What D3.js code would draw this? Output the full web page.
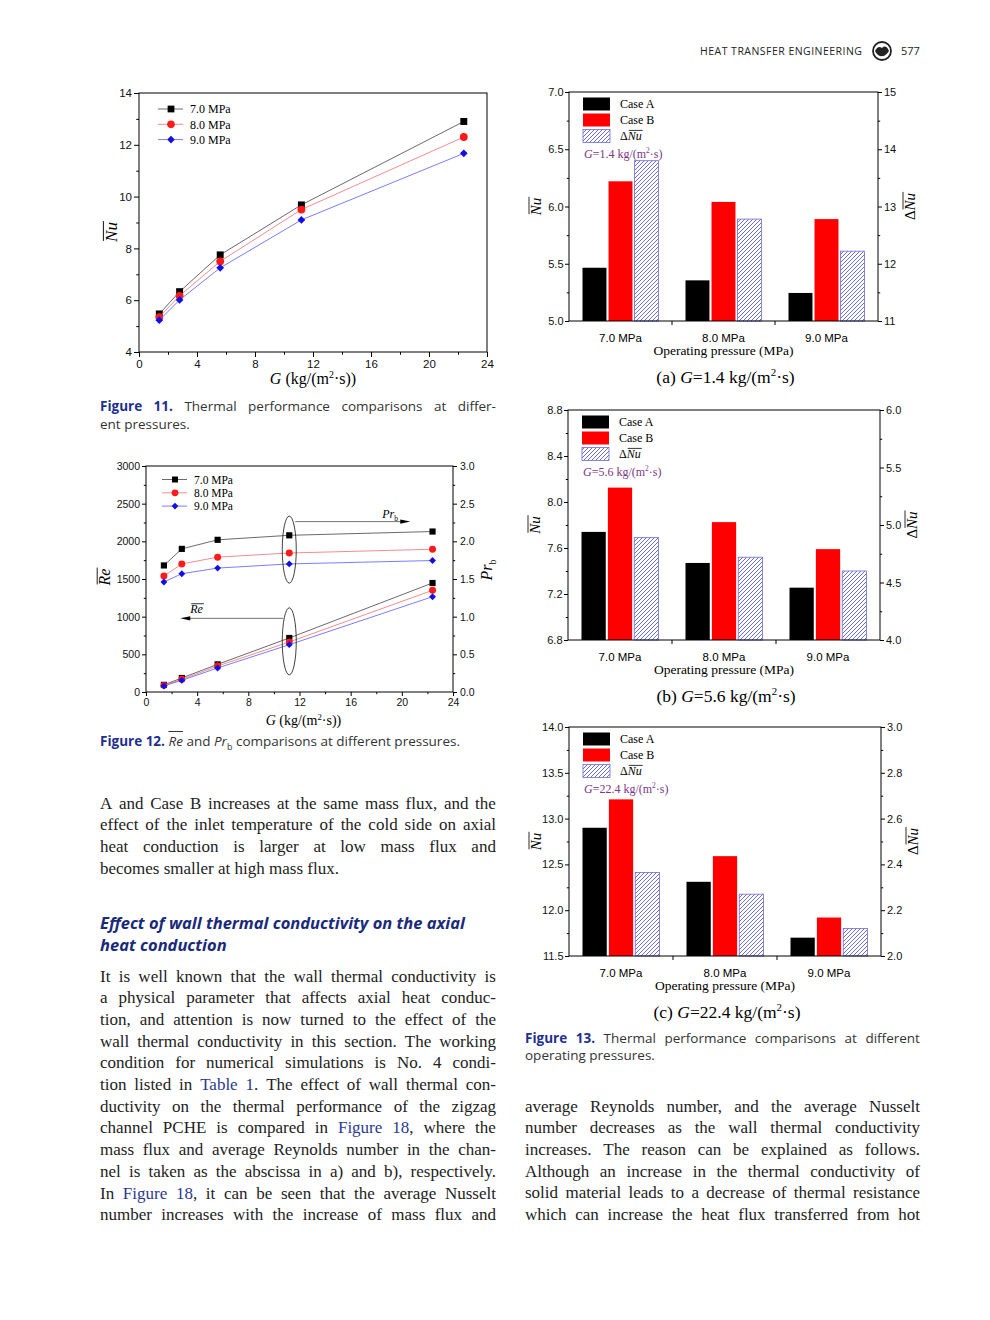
<!DOCTYPE html>
<html lang="en">
<head>
<meta charset="UTF-8">
<title>Heat Transfer Engineering 577</title>
<style>
  body { margin: 0; background: #fff; }
  #page { position: relative; width: 990px; height: 1320px; background: #fff; overflow: hidden; }
  #page svg { position: absolute; left: 0; top: 0; }
  .ln { position: absolute; font-family: "Liberation Serif", serif; font-size: 17px; color: #222; height: 22px; line-height: 22px; white-space: nowrap; }
  .cap { position: absolute; font-family: "Open Sans", sans-serif; font-size: 13.5px; color: #333; height: 17px; line-height: 17px; white-space: nowrap; }
  .hd { position: absolute; font-family: "Open Sans", sans-serif; font-size: 16.5px; font-weight: bold; font-style: italic; color: #1a2a7a; height: 22px; line-height: 22px; white-space: nowrap; }
  .j { display: flex; justify-content: space-between; }
  .lk { color: #2b3a8c; }
  .fg { color: #1f2f8f; font-weight: bold; }
  .ov { text-decoration: overline; }
  sub { font-size: 9px; line-height: 0; }
</style>
</head>
<body>
<div id="page"></div>
<script src="https://d3js.org/d3.v7.min.js"></script>
<script>
// ---- data ----
const massFlux = [1.4, 2.8, 5.6, 11.2, 22.4];
const pressureLabels = ['7.0 MPa', '8.0 MPa', '9.0 MPa'];
const gTicks = [0, 4, 8, 12, 16, 20, 24];

// Fig 11: average Nu vs G
const nu70 = [5.47, 6.33, 7.75, 9.68, 12.9];
const nu80 = [5.35, 6.17, 7.5, 9.5, 12.3];
const nu90 = [5.23, 6.01, 7.25, 9.1, 11.67];

// Fig 12: average Re (left axis) and Pr_b (right axis) vs G
const re70 = [95, 186, 367, 717, 1447];
const re80 = [88, 168, 345, 664, 1350];
const re90 = [80, 155, 319, 628, 1265];
const pr70 = [1.68, 1.90, 2.02, 2.08, 2.13];
const pr80 = [1.54, 1.70, 1.79, 1.845, 1.895];
const pr90 = [1.46, 1.57, 1.645, 1.70, 1.745];

// Fig 13: Case A / Case B Nu (left axis), delta Nu (right axis)
const caseA_a = [5.465, 5.355, 5.245];
const caseB_a = [6.22, 6.04, 5.89];
const dNu_a = [13.8, 12.78, 12.22];
const caseA_b = [7.74, 7.47, 7.255];
const caseB_b = [8.125, 7.825, 7.59];
const dNu_b = [4.89, 4.72, 4.60];
const caseA_c = [12.9, 12.31, 11.7];
const caseB_c = [13.21, 12.59, 11.92];
const dNu_c = [2.365, 2.27, 2.12];

const SANS = "'Liberation Sans', Arial, sans-serif";
const SERIF = "'Liberation Serif', 'Times New Roman', serif";

const page = d3.select('#page');
const svg = page.append('svg').attr('width', 990).attr('height', 1320);

// hatch for the delta bars
const pat = svg.append('defs').append('pattern')
  .attr('id', 'hatch').attr('patternUnits', 'userSpaceOnUse')
  .attr('width', 4).attr('height', 4);
pat.append('rect').attr('width', 4).attr('height', 4).attr('fill', '#fff');
pat.append('path').attr('d', 'M-1,1 L1,-1 M0,4 L4,0 M3,5 L5,3')
  .attr('stroke', '#5b5bd6').attr('stroke-width', 0.9);

// ---- helpers ----
function richText(parent, x, y, parts, o) {
  const fs = o.fs;
  const t = parent.append('text').attr('x', x).attr('y', y)
    .attr('font-family', o.font || SERIF).attr('font-size', fs)
    .attr('fill', o.fill || '#000').attr('text-anchor', o.anchor || 'start');
  let cur = 0, idx = 0;
  const overs = [];
  parts.forEach(p => {
    const s = t.append('tspan').text(p.t);
    if (p.it) s.attr('font-style', 'italic');
    let target = 0;
    if (p.sup) { s.attr('font-size', fs * 0.62); target = -fs * 0.38; }
    if (p.sub) { s.attr('font-size', fs * 0.62); target = fs * 0.25; }
    if (target !== cur) { s.attr('dy', target - cur); cur = target; }
    if (p.over) overs.push([idx, idx + p.t.length]);
    idx += p.t.length;
  });
  overs.forEach(([a, b]) => {
    const n = t.node();
    const s = n.getStartPositionOfChar(a), e = n.getEndPositionOfChar(b - 1);
    parent.append('line')
      .attr('x1', s.x + 1).attr('x2', e.x + 1)
      .attr('y1', s.y - fs * 0.8).attr('y2', s.y - fs * 0.8)
      .attr('stroke', o.fill || '#000').attr('stroke-width', Math.max(0.8, fs * 0.055));
  });
  return t;
}

function rotLabel(x, y, parts, fs) {
  const g = svg.append('g').attr('transform', `translate(${x},${y}) rotate(-90)`);
  richText(g, 0, 0, parts, { fs: fs, anchor: 'middle' });
}

function tidy(sel, fs) {
  sel.attr('font-family', SANS).attr('font-size', fs);
  sel.select('.domain').remove();
  sel.selectAll('.tick line').attr('stroke', '#000');
  sel.selectAll('.tick text').attr('fill', '#111');
}

function axisWithMinor(g, make, scale, major, minor, tr, fs, len, pad, f) {
  g.append('g').attr('transform', tr)
    .call(make(scale).tickValues(minor).tickSize(len * 0.55).tickFormat(''))
    .call(s => tidy(s, fs));
  g.append('g').attr('transform', tr)
    .call(make(scale).tickValues(major).tickSize(len).tickPadding(pad).tickFormat(d3.format(f || '')))
    .call(s => tidy(s, fs));
}

function frame(g, p) {
  g.append('rect').attr('x', p.x0).attr('y', p.y1)
    .attr('width', p.x1 - p.x0).attr('height', p.y0 - p.y1)
    .attr('fill', 'none').attr('stroke', '#000').attr('stroke-width', 1);
}

function marker(g, s, x, y, size) {
  const p = g.append('path')
    .attr('d', d3.symbol().type(s.sym === 'diamond' ? d3.symbolSquare : s.sym).size(size)())
    .attr('fill', s.color);
  p.attr('transform', `translate(${x},${y})` + (s.sym === 'diamond' ? ' rotate(45)' : ''));
}

function drawSeries(g, x, y, vals, s, size) {
  const pts = d3.zip(massFlux, vals);
  g.append('path').datum(pts)
    .attr('d', d3.line().x(d => x(d[0])).y(d => y(d[1])))
    .attr('fill', 'none').attr('stroke', s.line).attr('stroke-width', 0.8);
  pts.forEach(d => marker(g, s, x(d[0]), y(d[1]), s.sym === 'diamond' ? size * 0.62 : size));
}

const styles = [
  { name: '7.0 MPa', color: '#000', line: '#444', sym: d3.symbolSquare },
  { name: '8.0 MPa', color: '#ff1a1a', line: '#f07070', sym: d3.symbolCircle },
  { name: '9.0 MPa', color: '#1010e6', line: '#5a5aff', sym: 'diamond' }
];

function lineLegend(g, p, dx, dy, step, fs, msize) {
  styles.forEach((s, i) => {
    const yy = p.y1 + dy + i * step;
    g.append('line').attr('x1', p.x0 + dx).attr('x2', p.x0 + dx + 25)
      .attr('y1', yy).attr('y2', yy).attr('stroke', s.line).attr('stroke-width', 0.8);
    marker(g, s, p.x0 + dx + 13, yy, s.sym === 'diamond' ? msize * 0.62 : msize);
    g.append('text').attr('x', p.x0 + dx + 32).attr('y', yy + fs * 0.35)
      .attr('font-family', SERIF).attr('font-size', fs).text(s.name);
  });
}

const gUnitParts = [{ t: 'G', it: true }, { t: ' (kg/(m' }, { t: '2', sup: true }, { t: '·s))' }];

// ---- Figure 11 ----
{
  const p = { x0: 139, x1: 487, y0: 352, y1: 93 };
  const x = d3.scaleLinear().domain([0, 24]).range([p.x0, p.x1]);
  const y = d3.scaleLinear().domain([4, 14]).range([p.y0, p.y1]);
  const g = svg.append('g');
  [nu70, nu80, nu90].forEach((v, i) => drawSeries(g, x, y, v, styles[i], 48));
  frame(g, p);
  axisWithMinor(g, d3.axisBottom, x, gTicks, d3.range(2, 24, 4), `translate(0,${p.y0})`, 11.5, 5, 3, 'd');
  axisWithMinor(g, d3.axisLeft, y, d3.range(4, 15, 2), d3.range(5, 14, 2), `translate(${p.x0},0)`, 11.5, 5, 2, 'd');
  lineLegend(g, p, 19, 16, 15.3, 12, 46);
  rotLabel(117, 232, [{ t: 'Nu', it: true, over: true }], 17);
  richText(svg, (p.x0 + p.x1) / 2, p.y0 + 32, gUnitParts, { fs: 16, anchor: 'middle' });
}

// ---- Figure 12 ----
{
  const p = { x0: 146, x1: 453, y0: 692, y1: 466 };
  const x = d3.scaleLinear().domain([0, 24]).range([p.x0, p.x1]);
  const yL = d3.scaleLinear().domain([0, 3000]).range([p.y0, p.y1]);
  const yR = d3.scaleLinear().domain([0, 3]).range([p.y0, p.y1]);
  const g = svg.append('g');
  [re70, re80, re90].forEach((v, i) => drawSeries(g, x, yL, v, styles[i], 38));
  [pr70, pr80, pr90].forEach((v, i) => drawSeries(g, x, yR, v, styles[i], 38));
  frame(g, p);
  axisWithMinor(g, d3.axisBottom, x, gTicks, d3.range(2, 24, 4), `translate(0,${p.y0})`, 10.5, 4, 3, 'd');
  axisWithMinor(g, d3.axisLeft, yL, d3.range(0, 3001, 500), d3.range(250, 3000, 500), `translate(${p.x0},0)`, 10.5, 4, 2, 'd');
  axisWithMinor(g, d3.axisRight, yR, d3.range(0, 3.01, 0.5), d3.range(0.25, 3, 0.5), `translate(${p.x1},0)`, 10.5, 4, 3, '.1f');
  lineLegend(g, p, 16, 13.5, 13.3, 11.5, 36);

  // ellipses and arrows at G = 11.2
  const cx = x(massFlux[3]);
  const cyP = (yR(pr70[3]) + yR(pr90[3])) / 2;
  const cyR = (yL(re70[3]) + yL(re90[3])) / 2;
  [cyP, cyR].forEach(cy => g.append('ellipse').attr('cx', cx).attr('cy', cy)
    .attr('rx', 7).attr('ry', 33.5).attr('fill', 'none').attr('stroke', '#111').attr('stroke-width', 0.8));
  const ay1 = cyP - 28, ay2 = cyR - 23;
  g.append('line').attr('x1', cx + 6).attr('x2', cx + 114).attr('y1', ay1).attr('y2', ay1).attr('stroke', '#333').attr('stroke-width', 0.7);
  g.append('path').attr('d', `M${cx + 121},${ay1} L${cx + 111},${ay1 - 2.2} L${cx + 111},${ay1 + 2.2} Z`).attr('fill', '#000');
  richText(g, cx + 93, ay1 - 4, [{ t: 'Pr', it: true }, { t: 'b', sub: true }], { fs: 12 });
  g.append('line').attr('x1', cx - 6).attr('x2', cx - 102).attr('y1', ay2).attr('y2', ay2).attr('stroke', '#333').attr('stroke-width', 0.7);
  g.append('path').attr('d', `M${cx - 109},${ay2} L${cx - 99},${ay2 - 2.2} L${cx - 99},${ay2 + 2.2} Z`).attr('fill', '#000');
  richText(g, cx - 99, ay2 - 5, [{ t: 'Re', it: true, over: true }], { fs: 12 });

  rotLabel(110, 577, [{ t: 'Re', it: true, over: true }], 16);
  rotLabel(492, 570, [{ t: 'Pr', it: true }, { t: 'b', sub: true }], 16);
  richText(svg, (p.x0 + p.x1) / 2 + 4, p.y0 + 33, gUnitParts, { fs: 14, anchor: 'middle' });
}

// ---- Figure 13 ----
const barSeries = ['A', 'B', 'D'];
const barFill = { A: '#000', B: '#ff0000', D: 'url(#hatch)' };
const barStroke = { A: 'none', B: 'none', D: '#6b6bd8' };

function barPanel(p) {
  const xb = d3.scaleBand().domain(pressureLabels).range([p.x0, p.x1]);
  const xi = d3.scaleBand().domain(barSeries).range([13.5, xb.bandwidth() - 13.5]).paddingInner(0.08);
  const yl = d3.scaleLinear().domain(p.lDom).range([p.y0, p.y1]);
  const yr = d3.scaleLinear().domain(p.rDom).range([p.y0, p.y1]);
  const rows = pressureLabels.map((k, i) => ({ k: k, A: p.a[i], B: p.b[i], D: p.d[i] }));
  const g = svg.append('g');

  g.selectAll('g.grp').data(rows).enter().append('g')
    .attr('transform', d => `translate(${xb(d.k)},0)`)
    .selectAll('rect').data(d => barSeries.map(s => ({ s: s, v: d[s] }))).enter().append('rect')
    .attr('x', d => xi(d.s)).attr('width', xi.bandwidth())
    .attr('y', d => (d.s === 'D' ? yr : yl)(d.v))
    .attr('height', d => p.y0 - (d.s === 'D' ? yr : yl)(d.v))
    .attr('fill', d => barFill[d.s]).attr('stroke', d => barStroke[d.s]).attr('stroke-width', 0.8);

  frame(g, p);
  axisWithMinor(g, d3.axisLeft, yl, p.lTicks, p.lMinor, `translate(${p.x0},0)`, 11, 4, 1.5, '.1f');
  axisWithMinor(g, d3.axisRight, yr, p.rTicks, p.rMinor, `translate(${p.x1},0)`, 11, 4, 2, p.rFmt);

  // category ticks between groups and labels
  pressureLabels.slice(1).forEach(k => g.append('line')
    .attr('x1', xb(k)).attr('x2', xb(k)).attr('y1', p.y0).attr('y2', p.y0 + 4).attr('stroke', '#000'));
  g.selectAll('text.cat').data(pressureLabels).enter().append('text')
    .attr('x', d => xb(d) + xb.bandwidth() / 2).attr('y', p.y0 + 20.5)
    .attr('text-anchor', 'middle').attr('font-family', SANS).attr('font-size', 11.5).text(d => d);

  // legend
  const lx = p.x0 + 14;
  const names = [[{ t: 'Case A' }], [{ t: 'Case B' }], [{ t: 'Δ' }, { t: 'Nu', it: true, over: true }]];
  barSeries.forEach((s, i) => {
    const ly = p.y1 + 5.5 + i * 16;
    g.append('rect').attr('x', lx).attr('y', ly).attr('width', 27).attr('height', 13)
      .attr('fill', barFill[s]).attr('stroke', barStroke[s]).attr('stroke-width', 0.8);
    richText(g, p.x0 + 51, ly + 10.5, names[i], { fs: 12 });
  });
  richText(g, p.x0 + 15, p.y1 + 66,
    [{ t: 'G', it: true }, { t: '=' + p.gVal + ' kg/(m' }, { t: '2', sup: true }, { t: '·s)' }],
    { fs: 12, fill: '#7b3585' });

  const mid = (p.x0 + p.x1) / 2;
  richText(g, mid, p.y0 + 34, [{ t: 'Operating pressure (MPa)' }], { fs: 13.5, anchor: 'middle' });
  richText(g, mid + 2, p.y0 + 62,
    [{ t: '(' + p.tag + ') ' }, { t: 'G', it: true }, { t: '=' + p.gVal + ' kg/(m' }, { t: '2', sup: true }, { t: '·s)' }],
    { fs: 17.5, anchor: 'middle' });

  const cy = (p.y0 + p.y1) / 2;
  rotLabel(p.x0 - 28, cy, [{ t: 'Nu', it: true, over: true }], 15);
  rotLabel(p.x1 + 37, cy, [{ t: 'Δ' }, { t: 'Nu', it: true, over: true }], 15);
}

barPanel({ tag: 'a', gVal: '1.4', x0: 569, x1: 878, y0: 321, y1: 92,
  lDom: [5, 7], rDom: [11, 15], a: caseA_a, b: caseB_a, d: dNu_a,
  lTicks: d3.range(5, 7.01, 0.5), lMinor: d3.range(5.25, 7, 0.5),
  rTicks: d3.range(11, 15.01, 1), rMinor: d3.range(11.5, 15, 1), rFmt: 'd' });
barPanel({ tag: 'b', gVal: '5.6', x0: 568, x1: 880, y0: 640, y1: 410,
  lDom: [6.8, 8.8], rDom: [4, 6], a: caseA_b, b: caseB_b, d: dNu_b,
  lTicks: d3.range(6.8, 8.81, 0.4), lMinor: d3.range(7.0, 8.8, 0.4),
  rTicks: d3.range(4, 6.01, 0.5), rMinor: d3.range(4.25, 6, 0.5), rFmt: '.1f' });
barPanel({ tag: 'c', gVal: '22.4', x0: 569, x1: 881, y0: 956, y1: 727,
  lDom: [11.5, 14], rDom: [2, 3], a: caseA_c, b: caseB_c, d: dNu_c,
  lTicks: d3.range(11.5, 14.01, 0.5), lMinor: d3.range(11.75, 14, 0.5),
  rTicks: d3.range(2, 3.01, 0.2), rMinor: d3.range(2.1, 3, 0.2), rFmt: '.1f' });

// ---- running header ----
svg.append('text').attr('x', 700).attr('y', 55).attr('font-family', "'Open Sans', sans-serif")
  .attr('font-size', 10.5).attr('fill', '#222').attr('textLength', 162).text('HEAT TRANSFER ENGINEERING');
svg.append('circle').attr('cx', 882).attr('cy', 51).attr('r', 9).attr('fill', 'none').attr('stroke', '#222').attr('stroke-width', 1.8);
svg.append('path').attr('d', 'M875,51 Q878,45 882,48 Q886,44 889,51 Q885,57 882,56 Q878,57 875,51 Z').attr('fill', '#222');
svg.append('text').attr('x', 901).attr('y', 55).attr('font-family', "'Open Sans', sans-serif")
  .attr('font-size', 11).attr('fill', '#222').text('577');

// ---- text blocks ----
function fmt(s) {
  return s.replace(/\[\[(.*?)\]\]/g, '<span class="lk">$1</span>')
          .replace(/\{\{(.*?)\}\}/g, '<span class="fg">$1</span>');
}
function textLine(cls, x, top, w, str, justify) {
  const d = page.append('div').attr('class', cls + (justify ? ' j' : ''))
    .style('left', x + 'px').style('top', top + 'px').style('width', w + 'px');
  d.html(justify ? str.split(' ').map(wd => '<span>' + fmt(wd) + '</span>').join('') : fmt(str));
}
function paragraph(lines, x, y0, step, w, lastJustified) {
  lines.forEach((l, i) => textLine('ln', x, y0 + i * step - 12.5, w, l, lastJustified || i < lines.length - 1));
}

paragraph([
  'A and Case B increases at the same mass flux, and the',
  'effect of the inlet temperature of the cold side on axial',
  'heat conduction is larger at low mass flux and',
  'becomes smaller at high mass flux.'
], 100, 805, 21.67, 396, false);

['Effect of wall thermal conductivity on the axial', 'heat conduction']
  .forEach((l, i) => textLine('hd', 100, 925 + i * 21.5 - 13, 400, l, false));

paragraph([
  'It is well known that the wall thermal conductivity is',
  'a physical parameter that affects axial heat conduc-',
  'tion, and attention is now turned to the effect of the',
  'wall thermal conductivity in this section. The working',
  'condition for numerical simulations is No. 4 condi-',
  'tion listed in [[Table]] [[1]]. The effect of wall thermal con-',
  'ductivity on the thermal performance of the zigzag',
  'channel PCHE is compared in [[Figure]] [[18]], where the',
  'mass flux and average Reynolds number in the chan-',
  'nel is taken as the abscissa in a) and b), respectively.',
  'In [[Figure]] [[18]], it can be seen that the average Nusselt',
  'number increases with the increase of mass flux and'
], 100, 978.3, 21.67, 396, true);

paragraph([
  'average Reynolds number, and the average Nusselt',
  'number decreases as the wall thermal conductivity',
  'increases. The reason can be explained as follows.',
  'Although an increase in the thermal conductivity of',
  'solid material leads to a decrease of thermal resistance',
  'which can increase the heat flux transferred from hot'
], 525, 1108.3, 21.67, 395, true);

// captions
textLine('cap', 100, 408 - 10, 396, '{{Figure}} {{11.}} Thermal performance comparisons at differ-', true);
textLine('cap', 100, 425.5 - 10, 396, 'ent pressures.', false);
page.append('div').attr('class', 'cap').style('left', '100px').style('top', (743 - 10) + 'px')
  .html('<span class="fg">Figure 12.</span> <i class="ov">Re</i> and <i>Pr</i><sub>b</sub> comparisons at different pressures.');
textLine('cap', 525, 1040 - 10, 395, '{{Figure}} {{13.}} Thermal performance comparisons at different', true);
textLine('cap', 525, 1057 - 10, 395, 'operating pressures.', false);
</script>
</body>
</html>
